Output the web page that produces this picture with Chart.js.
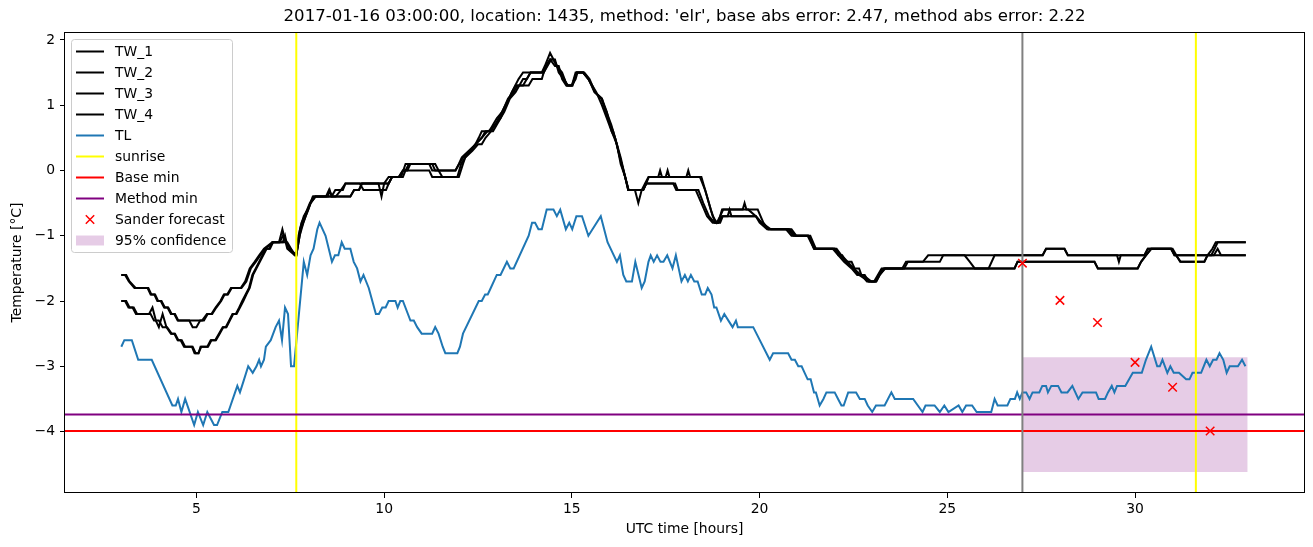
<!DOCTYPE html>
<html>
<head>
<meta charset="utf-8">
<title>Temperature forecast</title>
<script src="https://cdn.jsdelivr.net/npm/chart.js@4.4.1/dist/chart.umd.min.js"></script>
<style>
  html, body { margin: 0; padding: 0; background: #fff; }
  #wrap { width: 1313px; height: 547px; }
</style>
</head>
<body>
<div id="wrap"><canvas id="tempChart" width="1313" height="547"></canvas></div>
<script>
// --- data: [UTC hour, temperature] ---
const chartTitle = "2017-01-16 03:00:00, location: 1435, method: 'elr', base abs error: 2.47, method abs error: 2.22";
const xTicks = [5, 10, 15, 20, 25, 30];
const yTicks = [-4, -3, -2, -1, 0, 1, 2];

const tw1 = [[3.0,-1.6],[3.1,-1.6],[3.2,-1.7],[3.35,-1.8],[3.7,-1.8],[3.78,-1.9],[3.88,-1.9],[3.96,-2.0],[4.05,-2.0],[4.14,-2.1],[4.23,-2.1],[4.32,-2.2],[4.41,-2.2],[4.5,-2.3],[5.15,-2.3],[5.28,-2.2],[5.4,-2.2],[5.51,-2.1],[5.64,-2.0],[5.73,-1.9],[5.82,-1.9],[5.92,-1.8],[6.18,-1.8],[6.3,-1.7],[6.42,-1.5],[6.55,-1.4],[6.67,-1.3],[6.8,-1.2],[7.02,-1.1],[7.2,-1.1],[7.29,-0.9],[7.42,-1.2],[7.62,-1.3],[7.66,-1.3],
  [7.75,-1.0],[7.85,-0.8],[7.91,-0.7],[7.98,-0.6],[8.04,-0.5],[8.17,-0.4],[8.5,-0.4],[8.55,-0.3],[8.6,-0.4],[8.71,-0.4],[8.85,-0.3],[8.97,-0.2],[10.12,-0.2],[10.21,-0.1],[10.45,-0.1],[10.57,0.1],[11.28,0.1],[11.36,0.0],[11.9,0.0],[11.99,0.1],[12.07,0.2],[12.25,0.3],[12.43,0.4],[12.52,0.5],[12.6,0.6],
  [12.78,0.6],[12.96,0.7],[13.14,0.9],[13.32,1.1],[13.49,1.3],[13.58,1.4],[13.7,1.5],[14.2,1.5],[14.28,1.6],[14.42,1.8],[14.51,1.7],[14.6,1.6],[14.74,1.5],[14.87,1.3],[15.0,1.3],[15.13,1.5],[15.3,1.5],[15.44,1.4],[15.62,1.2],[15.8,1.1],[15.93,0.9],[16.06,0.6],[16.15,0.5],[16.28,0.2],[16.42,-0.1],
  [16.51,-0.3],[16.68,-0.3],[16.77,-0.5],[16.86,-0.3],[16.95,-0.2],[17.04,-0.1],[17.3,-0.1],[17.35,0.0],[17.4,-0.1],[18.41,-0.1],[18.55,-0.3],[18.7,-0.6],[18.82,-0.8],[18.9,-0.8],[19.0,-0.6],[19.55,-0.6],[19.6,-0.5],[19.65,-0.6],[19.95,-0.6],[20.1,-0.8],[20.23,-0.9],[20.76,-0.9],[20.9,-1.0],[21.3,-1.0],[21.4,-1.1],[21.47,-1.2],[22.0,-1.2],[22.1,-1.3],[22.2,-1.3],[22.3,-1.4],[22.45,-1.4],[22.53,-1.5],[22.65,-1.5],[22.71,-1.6],[22.86,-1.7],
  [23.08,-1.7],[23.17,-1.6],[23.3,-1.5],[23.8,-1.5],[23.9,-1.4],[24.35,-1.4],[24.49,-1.3],[25.46,-1.3],[25.6,-1.4],[25.73,-1.5],[26.79,-1.5],[26.87,-1.4],[28.92,-1.4],[29.01,-1.5],[30.07,-1.5],[30.16,-1.4],[30.29,-1.3],[30.43,-1.2],[30.96,-1.2],[31.09,-1.3],[31.22,-1.4],[31.84,-1.4],[31.93,-1.3],[32.06,-1.2],[32.15,-1.1],[32.95,-1.1]];

const tw2 = [[3.0,-1.6],[3.13,-1.6],[3.22,-1.7],[3.38,-1.8],[3.72,-1.8],[3.8,-1.9],[3.9,-1.9],[3.98,-2.0],[4.07,-2.0],[4.16,-2.1],[4.25,-2.1],[4.34,-2.2],[4.43,-2.2],[4.52,-2.3],[4.81,-2.3],[4.9,-2.4],[5.0,-2.4],[5.1,-2.3],[5.2,-2.3],[5.3,-2.2],[5.42,-2.2],[5.53,-2.1],[5.66,-2.0],[5.75,-1.9],[5.84,-1.9],[5.94,-1.8],[6.2,-1.8],[6.33,-1.7],[6.45,-1.5],[6.58,-1.4],[6.7,-1.3],[6.83,-1.2],[7.05,-1.1],[7.3,-1.1],[7.36,-1.0],[7.44,-1.2],[7.66,-1.3],
  [7.72,-1.0],[7.8,-0.8],[7.88,-0.7],[7.95,-0.6],[8.02,-0.5],[8.12,-0.4],[9.1,-0.4],[9.2,-0.3],[9.33,-0.3],[9.41,-0.2],[9.85,-0.2],[9.93,-0.4],[10.0,-0.2],[10.12,-0.1],[10.39,-0.1],[10.5,0.0],[10.62,0.0],[10.7,0.1],[11.2,0.1],[11.28,0.0],[11.45,0.0],[11.55,-0.1],[11.95,-0.1],[12.05,0.1],[12.16,0.2],[12.3,0.3],[12.43,0.4],[12.6,0.5],
  [12.7,0.6],[12.8,0.6],[12.9,0.7],[13.0,0.8],[13.15,0.9],[13.3,1.1],[13.45,1.2],[13.55,1.3],[13.7,1.3],[13.8,1.4],[13.9,1.5],[14.25,1.5],[14.33,1.6],[14.42,1.7],[14.55,1.6],[14.65,1.6],[14.74,1.4],[14.85,1.3],[15.0,1.3],[15.1,1.4],[15.15,1.5],[15.3,1.5],[15.45,1.4],[15.6,1.2],[15.8,1.1],[15.95,0.8],[16.1,0.6],[16.2,0.4],[16.3,0.2],[16.42,-0.1],
  [16.5,-0.3],[16.9,-0.3],[16.98,-0.2],[17.05,-0.1],[17.5,-0.1],[17.55,0.0],[17.6,-0.1],[18.05,-0.1],[18.1,0.0],[18.15,-0.1],[18.45,-0.1],[18.6,-0.4],[18.75,-0.7],[18.86,-0.8],[18.95,-0.7],[19.03,-0.6],[19.7,-0.6],[19.9,-0.7],[20.05,-0.8],[20.3,-0.9],[20.85,-0.9],[20.98,-1.0],[21.35,-1.0],[21.5,-1.2],[22.05,-1.2],[22.18,-1.3],[22.35,-1.4],[22.5,-1.5],[22.7,-1.6],[22.8,-1.6],[22.9,-1.7],
  [23.05,-1.7],[23.15,-1.6],[23.25,-1.5],[23.85,-1.5],[23.95,-1.4],[24.8,-1.4],[24.89,-1.3],[27.54,-1.3],[27.63,-1.2],[28.12,-1.2],[28.21,-1.3],[29.52,-1.3],[29.57,-1.4],[29.62,-1.3],[30.25,-1.3],[30.34,-1.2],[30.96,-1.2],[31.05,-1.3],[32.1,-1.3],[32.2,-1.2],[32.29,-1.3],[32.95,-1.3]];

const tw3 = [[3.0,-2.0],[3.1,-2.0],[3.19,-2.1],[3.3,-2.1],[3.39,-2.2],[3.74,-2.2],[3.83,-2.1],[3.92,-2.3],[4.0,-2.4],[4.1,-2.2],[4.2,-2.4],[4.32,-2.5],[4.41,-2.5],[4.5,-2.6],[4.58,-2.6],[4.67,-2.7],[4.9,-2.7],[4.98,-2.8],[5.06,-2.8],[5.11,-2.7],[5.29,-2.7],[5.38,-2.6],[5.5,-2.6],[5.6,-2.5],[5.7,-2.4],[5.78,-2.4],[5.87,-2.3],[5.96,-2.2],[6.05,-2.2],[6.14,-2.1],[6.22,-2.0],[6.31,-1.9],[6.4,-1.8],[6.49,-1.6],[6.58,-1.5],[6.67,-1.4],[6.76,-1.3],[6.85,-1.2],[6.94,-1.2],[7.02,-1.1],[7.42,-1.1],[7.62,-1.3],[7.66,-1.3],
  [7.78,-0.9],[7.91,-0.7],[8.04,-0.5],[8.1,-0.4],[8.6,-0.4],[8.7,-0.3],[8.9,-0.3],[8.97,-0.2],[9.35,-0.2],[9.45,-0.3],[10.05,-0.3],[10.12,-0.2],[10.21,-0.1],[10.39,-0.1],[10.5,0.0],[11.2,0.0],[11.28,-0.1],[11.99,-0.1],[12.1,0.1],[12.16,0.2],[12.35,0.3],[12.5,0.4],[12.6,0.4],
  [12.7,0.5],[12.85,0.6],[12.95,0.7],[13.1,0.8],[13.25,1.0],[13.4,1.2],[13.5,1.3],[13.85,1.3],[13.95,1.4],[14.2,1.4],[14.3,1.6],[14.42,1.7],[14.51,1.7],[14.6,1.6],[14.7,1.5],[14.8,1.4],[14.87,1.3],[15.0,1.3],[15.1,1.5],[15.3,1.5],[15.44,1.4],[15.65,1.2],[15.8,1.0],[15.93,0.8],[16.06,0.6],[16.2,0.4],[16.3,0.1],[16.42,-0.1],
  [16.5,-0.3],[16.9,-0.3],[16.98,-0.2],[17.75,-0.2],[17.82,-0.3],[18.37,-0.3],[18.5,-0.5],[18.65,-0.7],[18.8,-0.8],[18.9,-0.8],[19.0,-0.7],[19.15,-0.7],[19.2,-0.6],[19.25,-0.7],[19.9,-0.7],[20.05,-0.8],[20.23,-0.9],[20.8,-0.9],[20.95,-1.0],[21.28,-1.0],[21.45,-1.2],[22.0,-1.2],[22.15,-1.3],[22.3,-1.4],[22.5,-1.5],[22.65,-1.6],[22.92,-1.7],
  [23.1,-1.7],[23.2,-1.6],[23.33,-1.5],[26.1,-1.5],[26.26,-1.3],[27.54,-1.3],[27.63,-1.2],[28.12,-1.2],[28.21,-1.3],[30.25,-1.3],[30.34,-1.2],[30.96,-1.2],[31.05,-1.3],[32.03,-1.3],[32.12,-1.2],[32.2,-1.1],[32.95,-1.1]];

const tw4 = [[3.0,-2.0],[3.13,-2.0],[3.22,-2.1],[3.33,-2.1],[3.42,-2.2],[3.78,-2.2],[3.87,-2.3],[4.0,-2.3],[4.1,-2.4],[4.22,-2.4],[4.34,-2.5],[4.43,-2.5],[4.52,-2.6],[4.61,-2.6],[4.7,-2.7],[4.88,-2.7],[4.95,-2.8],[5.05,-2.8],[5.13,-2.7],[5.31,-2.7],[5.4,-2.6],[5.52,-2.6],[5.62,-2.5],[5.72,-2.4],[5.8,-2.4],[5.89,-2.3],[5.98,-2.2],[6.07,-2.2],[6.16,-2.1],[6.25,-2.0],[6.33,-1.9],[6.42,-1.8],[6.51,-1.6],[6.6,-1.5],[6.69,-1.4],[6.78,-1.3],[6.87,-1.2],[6.96,-1.2],[7.04,-1.1],[7.22,-1.1],[7.3,-1.0],[7.38,-1.1],[7.5,-1.2],[7.66,-1.3],
  [7.76,-0.9],[7.86,-0.7],[7.96,-0.6],[8.04,-0.5],[8.17,-0.4],[8.45,-0.4],[8.53,-0.3],[8.62,-0.4],[9.1,-0.4],[9.2,-0.3],[9.33,-0.3],[9.41,-0.2],[10.12,-0.2],[10.21,-0.1],[10.5,-0.1],[10.57,0.0],[10.66,0.1],[11.36,0.1],[11.45,0.0],[11.9,0.0],[12.0,0.1],[12.1,0.2],[12.3,0.3],[12.43,0.4],[12.6,0.5],
  [12.75,0.6],[12.9,0.6],[13.0,0.7],[13.1,0.8],[13.2,0.9],[13.35,1.1],[13.5,1.2],[13.6,1.3],[13.7,1.4],[13.8,1.4],[13.9,1.5],[14.25,1.5],[14.35,1.6],[14.45,1.7],[14.55,1.7],[14.65,1.5],[14.78,1.4],[14.9,1.3],[15.02,1.3],[15.13,1.5],[15.33,1.5],[15.47,1.4],[15.62,1.2],[15.78,1.1],[15.92,0.9],[16.05,0.7],[16.15,0.5],[16.28,0.2],[16.42,-0.1],
  [16.51,-0.3],[16.9,-0.3],[16.98,-0.2],[17.7,-0.2],[17.78,-0.3],[18.3,-0.3],[18.45,-0.5],[18.6,-0.7],[18.75,-0.8],[18.95,-0.8],[19.02,-0.7],[19.9,-0.7],[20.0,-0.8],[20.2,-0.9],[20.7,-0.9],[20.85,-1.0],[21.3,-1.0],[21.38,-1.1],[21.45,-1.2],[21.95,-1.2],[22.1,-1.3],[22.25,-1.4],[22.45,-1.5],[22.6,-1.6],[22.75,-1.6],[22.98,-1.7],
  [23.11,-1.7],[23.2,-1.6],[23.35,-1.5],[26.79,-1.5],[26.87,-1.4],[28.92,-1.4],[29.01,-1.5],[30.07,-1.5],[30.16,-1.4],[30.29,-1.3],[30.43,-1.2],[31.0,-1.2],[31.1,-1.3],[31.2,-1.4],[31.85,-1.4],[31.93,-1.3],[32.95,-1.3]];

const tl = [[3.0,-2.7],[3.08,-2.6],[3.28,-2.6],[3.45,-2.9],[3.81,-2.9],[4.36,-3.6],[4.45,-3.6],[4.51,-3.5],[4.6,-3.7],[4.7,-3.5],[4.94,-3.9],[5.04,-3.7],[5.18,-3.9],[5.29,-3.7],[5.47,-3.9],[5.55,-3.9],[5.69,-3.7],[5.85,-3.7],[5.91,-3.6],[6.03,-3.4],[6.09,-3.3],[6.16,-3.4],[6.27,-3.2],[6.38,-3.0],[6.5,-3.1],[6.6,-3.0],[6.67,-2.9],[6.72,-3.0],[6.8,-2.9],[6.85,-2.7],[6.98,-2.6],[7.11,-2.4],[7.2,-2.3],[7.28,-2.6],[7.36,-2.1],[7.44,-2.2],[7.52,-3.0],[7.6,-3.0],
  [7.86,-1.4],[7.95,-1.6],[8.04,-1.3],[8.12,-1.2],[8.22,-0.9],[8.28,-0.8],[8.44,-1.0],[8.61,-1.4],[8.69,-1.3],[8.78,-1.3],[8.87,-1.1],[8.95,-1.2],[9.1,-1.2],[9.19,-1.4],[9.28,-1.5],[9.37,-1.7],[9.45,-1.6],[9.59,-1.8],[9.78,-2.2],[9.86,-2.2],[9.95,-2.1],[10.04,-2.1],[10.12,-2.0],[10.3,-2.0],[10.36,-2.1],[10.43,-2.0],[10.5,-2.0],[10.7,-2.3],[10.79,-2.3],[10.88,-2.4],[11.0,-2.5],[11.28,-2.5],[11.36,-2.4],[11.45,-2.5],[11.56,-2.7],[11.63,-2.8],[11.95,-2.8],[12.02,-2.7],[12.1,-2.5],
  [12.52,-2.0],[12.6,-2.0],[12.69,-1.9],[12.76,-1.9],[12.84,-1.8],[13.0,-1.6],[13.1,-1.6],[13.27,-1.4],[13.36,-1.5],[13.45,-1.5],[13.85,-1.0],[13.94,-0.8],[14.02,-0.8],[14.11,-0.9],[14.2,-0.9],[14.33,-0.6],[14.51,-0.6],[14.6,-0.7],[14.69,-0.6],[14.84,-0.9],[14.93,-0.8],[15.01,-0.9],[15.12,-0.7],[15.27,-0.7],[15.44,-1.0],[15.77,-0.7],[15.95,-1.1],[16.2,-1.4],[16.28,-1.3],[16.37,-1.6],[16.45,-1.7],[16.6,-1.7],[16.69,-1.4],[16.86,-1.8],[16.94,-1.7],
  [17.04,-1.4],[17.1,-1.3],[17.18,-1.4],[17.27,-1.3],[17.36,-1.4],[17.44,-1.4],[17.54,-1.3],[17.68,-1.5],[17.77,-1.3],[17.92,-1.7],[18.01,-1.6],[18.09,-1.7],[18.17,-1.6],[18.26,-1.7],[18.35,-1.7],[18.46,-1.9],[18.55,-1.9],[18.62,-1.8],[18.72,-1.9],[18.79,-2.1],[18.85,-2.1],[18.97,-2.3],[19.06,-2.2],[19.17,-2.3],[19.28,-2.4],[19.37,-2.3],[19.42,-2.4],[19.83,-2.4],[20.27,-2.9],[20.36,-2.8],[20.76,-2.8],[20.85,-2.9],[20.94,-2.9],
  [21.03,-3.0],[21.12,-3.0],[21.2,-3.1],[21.28,-3.2],[21.36,-3.2],[21.45,-3.4],[21.5,-3.4],[21.6,-3.6],[21.7,-3.5],[21.78,-3.4],[22.0,-3.4],[22.09,-3.5],[22.18,-3.6],[22.24,-3.6],[22.36,-3.4],[22.57,-3.4],[22.67,-3.5],[22.8,-3.5],[22.88,-3.6],[23.0,-3.7],[23.1,-3.6],[23.33,-3.6],[23.51,-3.4],[23.6,-3.5],[24.09,-3.5],[24.34,-3.7],[24.42,-3.6],[24.66,-3.6],[24.8,-3.7],[24.92,-3.6],[25.03,-3.7],[25.3,-3.6],[25.4,-3.7],[25.5,-3.6],[25.66,-3.6],[25.78,-3.7],[26.17,-3.7],[26.26,-3.5],[26.34,-3.6],[26.6,-3.6],[26.68,-3.5],[26.8,-3.5],[26.86,-3.4],[26.93,-3.5],
  [27.0,-3.4],[27.1,-3.4],[27.19,-3.5],[27.27,-3.4],[27.45,-3.4],[27.53,-3.3],[27.63,-3.3],[27.68,-3.4],[27.77,-3.3],[27.95,-3.3],[28.04,-3.4],[28.2,-3.4],[28.33,-3.3],[28.49,-3.5],[28.6,-3.4],[28.96,-3.4],[29.03,-3.5],[29.2,-3.5],[29.28,-3.4],[29.38,-3.3],[29.45,-3.4],[29.52,-3.3],[29.74,-3.3],[29.94,-3.1],[30.18,-3.1],[30.29,-2.9],[30.43,-2.7],[30.59,-3.0],[30.66,-3.0],[30.73,-2.9],[30.86,-3.1],[30.94,-3.0],[31.03,-3.1],[31.17,-3.1],[31.36,-3.2],[31.45,-3.2],[31.53,-3.1],[31.76,-3.1],[31.9,-2.9],[31.99,-3.0],[32.08,-2.9],[32.17,-2.9],[32.25,-2.8],[32.35,-2.9],[32.44,-3.1],[32.52,-3.0],[32.74,-3.0],[32.85,-2.9],[32.94,-3.0]];

const sunriseHours = [7.66, 31.62];
const forecastHour = 27;
const baseMin = -3.99;
const methodMin = -3.74;
const sanderHours = [27, 28, 29, 30, 31, 32];
const sanderTemps = [-1.42, -1.99, -2.33, -2.94, -3.32, -3.99];
const confHours = [27, 33];
const confLow = -4.62;
const confHigh = -2.86;

// axis limits like matplotlib's 5% margins
const allHours = [tw1, tw2, tw3, tw4, tl].flat().map(p => p[0]).concat(sanderHours, confHours);
const allTemps = [tw1, tw2, tw3, tw4, tl].flat().map(p => p[1]).concat(sanderTemps, [confLow, confHigh]);
const hLo = Math.min(...allHours), hHi = Math.max(...allHours);
const tLo = Math.min(...allTemps), tHi = Math.max(...allTemps);
const xMin = hLo - 0.05 * (hHi - hLo), xMax = hHi + 0.05 * (hHi - hLo);
const yMin = tLo - 0.05 * (tHi - tLo), yMax = tHi + 0.05 * (tHi - tLo);

const toXY = arr => arr.map(p => ({ x: p[0], y: p[1] }));
const vLines = hours => hours.flatMap((h, i) => {
    const seg = [{ x: h, y: yMin }, { x: h, y: yMax }];
    return i < hours.length - 1 ? seg.concat([{ x: h, y: null }]) : seg;
});

const lineStyle = (label, data, color, width) => ({
    label: label, data: data, borderColor: color, backgroundColor: color,
    borderWidth: width, pointRadius: 0, tension: 0, fill: false
});

// listed bottom to top
const datasets = [
    Object.assign(lineStyle('95% confidence', confHours.map(h => ({ x: h, y: confHigh })), 'rgba(128,0,128,0)', 0),
        { fill: { value: confLow }, backgroundColor: 'rgba(128,0,128,0.2)' }),
    lineStyle('TW_1', toXY(tw1), '#000000', 2),
    lineStyle('TW_2', toXY(tw2), '#000000', 2),
    lineStyle('TW_3', toXY(tw3), '#000000', 2),
    lineStyle('TW_4', toXY(tw4), '#000000', 2),
    lineStyle('TL', toXY(tl), '#1f77b4', 2),
    lineStyle('sunrise', vLines(sunriseHours), '#ffff00', 2),
    lineStyle('Base min', [{ x: xMin, y: baseMin }, { x: xMax, y: baseMin }], '#ff0000', 2),
    lineStyle('Method min', [{ x: xMin, y: methodMin }, { x: xMax, y: methodMin }], '#800080', 2),
    lineStyle('forecast time', vLines([forecastHour]), '#808080', 2),
    {
        label: 'Sander forecast',
        data: sanderHours.map((h, i) => ({ x: h, y: sanderTemps[i] })),
        showLine: false, pointStyle: 'crossRot', pointRadius: 6,
        pointBorderColor: '#ff0000', pointBackgroundColor: '#ff0000', pointBorderWidth: 1.5,
        borderColor: '#ff0000', backgroundColor: '#ff0000'
    }
];
datasets.forEach((d, i) => { d.order = datasets.length - i; });

const legendLabels = ['TW_1', 'TW_2', 'TW_3', 'TW_4', 'TL', 'sunrise', 'Base min', 'Method min', 'Sander forecast', '95% confidence'];

// title centred over the axes, top/right spines, matplotlib-like legend box
const mplFrame = {
    id: 'mplFrame',
    afterDraw(chart) {
        const ctx = chart.ctx;
        const a = chart.chartArea;
        ctx.save();
        ctx.fillStyle = '#000';
        ctx.font = '16.6px "DejaVu Sans"';
        ctx.textAlign = 'center';
        ctx.textBaseline = 'middle';
        ctx.fillText(chartTitle, (a.left + a.right) / 2, 17);

        ctx.strokeStyle = '#000';
        ctx.lineWidth = 1;
        ctx.strokeRect(Math.round(a.left) - 0.5, Math.round(a.top) + 0.5,
            Math.round(a.right - a.left) + 1, Math.round(a.bottom - a.top) - 1);

        const x0 = a.left + 6.5, y0 = a.top + 7.5, w = 161, h = 213;
        ctx.beginPath();
        ctx.roundRect(x0, y0, w, h, 3);
        ctx.fillStyle = 'rgba(255,255,255,0.8)';
        ctx.fill();
        ctx.strokeStyle = '#cccccc';
        ctx.stroke();

        ctx.font = '13.9px "DejaVu Sans"';
        ctx.textBaseline = 'middle';
        ctx.textAlign = 'left';
        legendLabels.forEach((lab, i) => {
            const d = chart.data.datasets.find(ds => ds.label === lab);
            const y = y0 + 12 + i * 21;
            const hx0 = x0 + 4.5, hx1 = x0 + 32.5;
            if (lab === 'Sander forecast') {
                const cx = (hx0 + hx1) / 2, r = 4.2;
                ctx.strokeStyle = d.pointBorderColor;
                ctx.lineWidth = 1.5;
                ctx.beginPath();
                ctx.moveTo(cx - r, y - r); ctx.lineTo(cx + r, y + r);
                ctx.moveTo(cx + r, y - r); ctx.lineTo(cx - r, y + r);
                ctx.stroke();
            } else if (lab === '95% confidence') {
                ctx.fillStyle = d.backgroundColor;
                ctx.fillRect(hx0, y - 5, hx1 - hx0, 10);
            } else {
                ctx.strokeStyle = d.borderColor;
                ctx.lineWidth = d.borderWidth;
                ctx.beginPath();
                ctx.moveTo(hx0, y); ctx.lineTo(hx1, y);
                ctx.stroke();
            }
            ctx.fillStyle = '#000';
            ctx.fillText(lab, x0 + 43.5, y + 1);
        });
        ctx.restore();
    }
};

Chart.defaults.font.family = '"DejaVu Sans", sans-serif';
Chart.defaults.color = '#000';

const axisCommon = {
    grid: { drawOnChartArea: false, drawTicks: true, tickLength: 5, tickColor: '#000', tickWidth: 1 },
    border: { display: false }
};

new Chart(document.getElementById('tempChart').getContext('2d'), {
    type: 'line',
    data: { datasets: datasets },
    options: {
        responsive: false,
        animation: false,
        events: [],
        layout: { padding: { left: 0, right: 9, top: 32, bottom: 0 } },
        plugins: {
            legend: { display: false },
            tooltip: { enabled: false },
            title: { display: false }
        },
        scales: {
            x: Object.assign({}, axisCommon, {
                type: 'linear', min: xMin, max: xMax,
                afterBuildTicks: s => { s.ticks = xTicks.map(v => ({ value: v })); },
                afterFit: s => { s.height = 54; },
                ticks: { color: '#000', font: { size: 13.9 }, padding: 3, maxRotation: 0, autoSkip: false },
                title: { display: true, text: 'UTC time [hours]', color: '#000', font: { size: 13.9 }, padding: { top: 0, bottom: 9.7 } }
            }),
            y: Object.assign({}, axisCommon, {
                type: 'linear', min: yMin, max: yMax,
                afterBuildTicks: s => { s.ticks = yTicks.map(v => ({ value: v })); },
                afterFit: s => { s.width = 65; },
                ticks: {
                    color: '#000', font: { size: 13.9 }, padding: 5, autoSkip: false,
                    callback: v => (v < 0 ? '\u2212' + Math.abs(v) : String(v))
                },
                title: { display: true, text: 'Temperature [°C]', color: '#000', font: { size: 13.9 }, padding: { top: 8.7, bottom: 0 } }
            })
        }
    },
    plugins: [mplFrame]
});
</script>
</body>
</html>
